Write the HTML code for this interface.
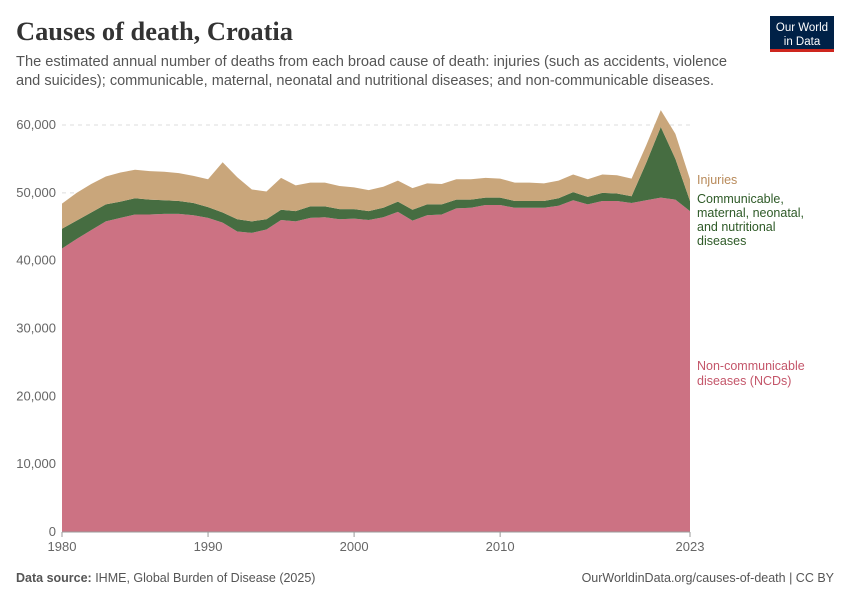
<!DOCTYPE html>
<html><head><meta charset="utf-8"><style>
body{margin:0;background:#fff;width:850px;height:600px;overflow:hidden;font-family:"Liberation Sans",sans-serif;}
</style></head><body>
<svg width="850" height="600" xmlns="http://www.w3.org/2000/svg">
<text x="16" y="40" font-family="Liberation Serif" font-size="26" font-weight="bold" fill="#333" textLength="277" lengthAdjust="spacingAndGlyphs">Causes of death, Croatia</text>
<text x="16" y="66" font-size="14.5" fill="#555" textLength="711" lengthAdjust="spacingAndGlyphs">The estimated annual number of deaths from each broad cause of death: injuries (such as accidents, violence</text>
<text x="16" y="85" font-size="14.5" fill="#555" textLength="698" lengthAdjust="spacingAndGlyphs">and suicides); communicable, maternal, neonatal and nutritional diseases; and non-communicable diseases.</text>
<g>
<rect x="770" y="16" width="64" height="36" fill="#002147"/>
<rect x="770" y="49" width="64" height="3" fill="#ce261e"/>
<text x="802" y="31" font-size="11.5" fill="#fff" text-anchor="middle">Our World</text>
<text x="802" y="45" font-size="11.5" fill="#fff" text-anchor="middle">in Data</text>
</g>
<g id="grid"></g>
<g id="areas"></g>
<g id="axes"></g>
<text x="697" y="184" font-size="12.5" fill="#b88a5a">Injuries</text>
<g font-size="12.5" fill="#2e5a27">
<text x="697" y="203">Communicable,</text><text x="697" y="217">maternal, neonatal,</text><text x="697" y="231">and nutritional</text><text x="697" y="245">diseases</text></g>
<g font-size="12.5" fill="#c4566a">
<text x="697" y="370">Non-communicable</text><text x="697" y="385">diseases (NCDs)</text></g>
<text x="16" y="582" font-size="12.5" fill="#555"><tspan font-weight="bold">Data source:</tspan> IHME, Global Burden of Disease (2025)</text>
<text x="834" y="582" font-size="12.5" fill="#555" text-anchor="end">OurWorldinData.org/causes-of-death | CC BY</text>
</svg>
<script>
const years=[];for(let y=1980;y<=2023;y++)years.push(y);
const ncd=[41800,43200,44500,45800,46300,46800,46800,46900,46900,46700,46300,45600,44300,44100,44600,46000,45800,46300,46400,46100,46200,46000,46400,47200,45900,46700,46800,47700,47800,48200,48200,47800,47800,47800,48100,48900,48300,48800,48800,48500,48900,49300,49000,47300];
const communicable=[2900,2700,2600,2500,2400,2400,2200,2000,1900,1800,1600,1500,1800,1700,1500,1500,1500,1700,1600,1500,1400,1300,1400,1500,1600,1600,1500,1300,1200,1100,1100,1000,1000,1000,1100,1200,1100,1200,1100,1000,5500,10400,6000,1500];
const injuries=[3700,4100,4200,4100,4300,4200,4200,4200,4100,4000,4100,7400,6200,4700,4100,4700,3800,3500,3500,3400,3200,3100,3100,3100,3200,3100,3000,3000,3000,2900,2800,2700,2700,2600,2600,2600,2600,2700,2700,2600,2600,2500,3700,3200];
const yTicks=[0,10000,20000,30000,40000,50000,60000];
const xTicks=[1980,1990,2000,2010,2023];
const NS="http://www.w3.org/2000/svg";
const X=y=>62+(y-1980)*(690-62)/43;
const Y=v=>532-v*(532-125)/60000;
function mk(t,a,p){const e=document.createElementNS(NS,t);for(const k in a)e.setAttribute(k,a[k]);document.getElementById(p).appendChild(e);return e;}
yTicks.forEach(v=>{
 if(v>0){const l=mk('line',{x1:62,x2:690,y1:Y(v),y2:Y(v),stroke:'#ddd','stroke-dasharray':'4,4'},'grid');
 
 }
 const t=mk('text',{x:56,y:Y(v)+4,'font-size':13,fill:'#666','text-anchor':'end'},'axes');t.textContent=v.toLocaleString('en-US');
 
 
});
const series=[[ncd,'#cc7283','area-ncd'],[communicable,'#466d41','area-communicable'],[injuries,'#c9a67b','area-injuries']];
let base=years.map(()=>0);
series.forEach(([vals,col,name])=>{
 const top=base.map((b,i)=>b+vals[i]);
 let d='M'+years.map((y,i)=>X(y)+','+Y(top[i])).join('L');
 for(let i=years.length-1;i>=0;i--)d+='L'+X(years[i])+','+Y(base[i]);
 const p=mk('path',{d:d+'Z',fill:col},'areas');
 
 
 base=top;
});
mk('line',{x1:62,x2:690,y1:532,y2:532,stroke:'#999'},'axes');
xTicks.forEach(y=>{
 mk('line',{x1:X(y),x2:X(y),y1:532,y2:537,stroke:'#999'},'axes');
 const t=mk('text',{x:X(y),y:551,'font-size':13,fill:'#666','text-anchor':'middle'},'axes');t.textContent=y;
 
 
});
</script>
</body></html>
